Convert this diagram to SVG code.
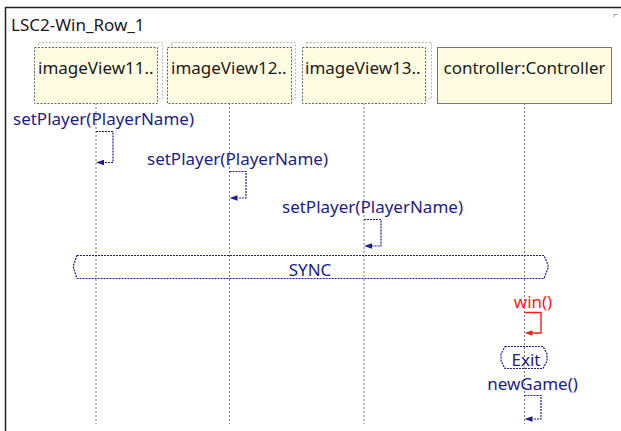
<svg xmlns="http://www.w3.org/2000/svg" width="621" height="431" viewBox="0 0 621 431">
<defs>
<style>
text{font-family:"Noto Sans","Liberation Sans",sans-serif;font-size:17px}
.lbl{fill:#1a1a1a}
.msg{fill:#1c1c8c}
.red{fill:#ff1a1a}
.box{fill:#fffde1;stroke:#666;stroke-width:1;stroke-dasharray:2 1.5}
.shadow{fill:#fffefa;stroke:#bbb;stroke-width:1;stroke-dasharray:2 1.5}
.solidbox{fill:#fffde1;stroke:#777;stroke-width:1}
.life{stroke:#777;stroke-width:1;stroke-dasharray:2 2;fill:none}
.self{fill:none;stroke:#1c1c8c;stroke-width:1.2;stroke-dasharray:2 1}
.selfred{fill:none;stroke:#ff1a1a;stroke-width:1.4}
.cond{fill:none;stroke:#1c1c8c;stroke-width:1.2;stroke-dasharray:2 1}
</style>
</defs>
<rect x="0" y="0" width="621" height="431" fill="#fff"/>
<g id="frame">
<path d="M5.5,431 L5.5,7.5 L621,7.5" fill="none" stroke="#222" stroke-width="1.5"/>
<path d="M614,17 L614,14.5 L617,14.5" fill="none" stroke="#999" stroke-width="1"/>
<text x="11" y="31" class="lbl">LSC2-Win_Row_1</text>
</g>
<g id="lifelines">
<line class="life" x1="96" y1="103" x2="96" y2="424"/>
<line class="life" x1="229.5" y1="103" x2="229.5" y2="424"/>
<line class="life" x1="364" y1="103" x2="364" y2="424"/>
<line class="life" x1="524.5" y1="103" x2="524.5" y2="424"/>
</g>
<g id="imageView11">
<rect class="shadow" x="38.5" y="42.5" width="124" height="56"/>
<rect class="box" x="34.5" y="47.5" width="123" height="56"/>
<text x="38" y="74" class="lbl">imageView11..</text>
</g>
<g id="imageView12">
<rect class="shadow" x="171.5" y="42.5" width="124" height="56"/>
<rect class="box" x="167.5" y="47.5" width="124" height="56"/>
<text x="171" y="74" class="lbl">imageView12..</text>
</g>
<g id="imageView13">
<rect class="shadow" x="306.5" y="42.5" width="125" height="56"/>
<rect class="box" x="302.5" y="47.5" width="123" height="56"/>
<text x="305" y="74" class="lbl">imageView13..</text>
</g>
<g id="controller">
<rect class="solidbox" x="437.5" y="47.5" width="174" height="56"/>
<text x="524.5" y="74" class="lbl" text-anchor="middle">controller:Controller</text>
</g>
<g id="sync">
<path class="cond" d="M77,255.5 L544,255.5 L548,265 L548,268 L544,278.5 L77,278.5 L73.5,268 L73.5,265 Z"/>
<text x="310" y="276" class="msg" text-anchor="middle">SYNC</text>
</g>
<g id="exit">
<path class="cond" d="M505,346.5 L543,346.5 L547,354 L547,361 L543,368.5 L505,368.5 L501,361 L501,354 Z"/>
<text x="526" y="366" class="msg" text-anchor="middle">Exit</text>
</g>
<g id="connectors">
<path class="self" d="M96,131.5 L113,131.5 L113,162.5 L104,162.5"/>
<path d="M96,162.5 L104,159.8 L104,165.2 Z" fill="#1c1c8c"/>
<path class="self" d="M229.5,171.5 L246,171.5 L246,198 L237.5,198"/>
<path d="M229.5,198 L237.5,195.3 L237.5,200.7 Z" fill="#1c1c8c"/>
<path class="self" d="M364,219.5 L381,219.5 L381,246 L372,246"/>
<path d="M364,246 L372,243.3 L372,248.7 Z" fill="#1c1c8c"/>
<path class="selfred" d="M524.5,312.5 L541,312.5 L541,333 L532.5,333"/>
<path d="M524.5,333 L532.5,330.3 L532.5,335.7 Z" fill="#ff1a1a"/>
<path class="self" d="M524.5,395.5 L541,395.5 L541,419 L532.5,419"/>
<path d="M524.5,419 L532.5,416.3 L532.5,421.7 Z" fill="#1c1c8c"/>
</g>
<g id="labels">
<text x="13" y="125" class="msg">setPlayer(PlayerName)</text>
<text x="147" y="165" class="msg">setPlayer(PlayerName)</text>
<text x="282" y="213" class="msg">setPlayer(PlayerName)</text>
<text x="533" y="308" class="red" text-anchor="middle">win()</text>
<text x="532.5" y="390" class="msg" text-anchor="middle">newGame()</text>
</g>
</svg>
